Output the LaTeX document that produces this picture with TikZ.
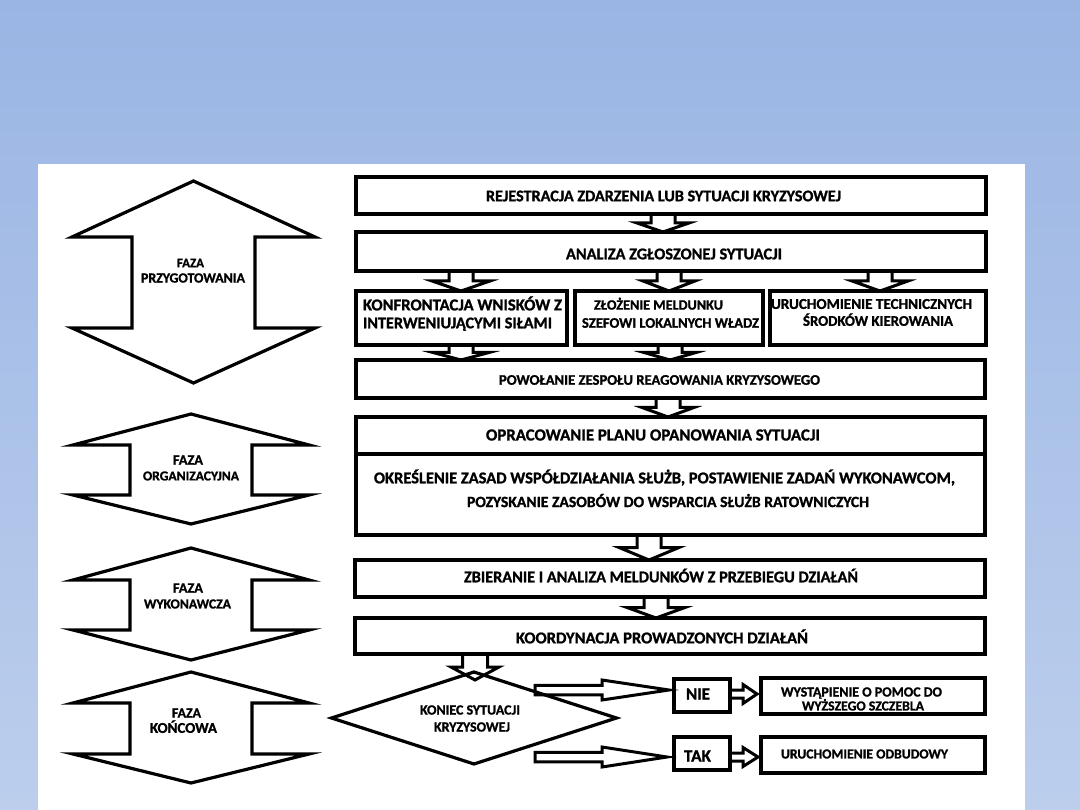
\documentclass[tikz,border=0pt]{standalone}
\usepackage{fontspec}
\setmainfont{Carlito}[BoldFeatures={FakeBold=1.2}]
\usepackage{graphicx}
\usetikzlibrary{calc,shapes.geometric}
\definecolor{bgtop}{RGB}{154,181,228}
\definecolor{bgbot}{RGB}{188,206,236}
\newcommand\fitline[2]{\resizebox{#1pt}{!}{\smash{#2}\vphantom{X}}}
% down block arrow: x, from node, tip coordinate, half shaft, half head
\newcommand\downblock[5]{%
  \draw[barrow] let \p1=(#2.south), \p2=(#3) in
    (#1pt-#4pt,\y1) -- (#1pt-#4pt,{0.5*\y1+0.5*\y2}) -- (#1pt-#5pt,{0.5*\y1+0.5*\y2})
    -- (#1pt,\y2) -- (#1pt+#5pt,{0.5*\y1+0.5*\y2}) -- (#1pt+#4pt,{0.5*\y1+0.5*\y2})
    -- (#1pt+#4pt,\y1);}
% right block arrow: tail coord, tip coord, half shaft, half head, head length
\newcommand\rightblock[5]{%
  \draw[barrow] let \p1=(#1), \p2=(#2) in
    (\x1,\y2-#3pt) -- (\x2-#5pt,\y2-#3pt) -- (\x2-#5pt,\y2-#4pt) -- (\x2,\y2)
    -- (\x2-#5pt,\y2+#4pt) -- (\x2-#5pt,\y2+#3pt) -- (\x1,\y2+#3pt) -- cycle;}
% phase double arrow: cx, outer half, inner half, ytop, yshoulder, ylow, ybottom
\newcommand\phaseshape[7]{%
  \draw[phaseline] (#1,#4) -- (#1-#2,#5) -- (#1-#3,#5) -- (#1-#3,#6) -- (#1-#2,#6)
    -- (#1,#7) -- (#1+#2,#6) -- (#1+#3,#6) -- (#1+#3,#5) -- (#1+#2,#5) -- cycle;}
\tikzset{
  box/.style={draw=black, fill=white, line width=4pt, rectangle, inner sep=0pt, outer sep=0pt},
  decision/.style={draw=black, fill=white, line width=3.2pt, diamond, inner sep=0pt, outer sep=0pt, minimum width=285pt, minimum height=92pt},
  barrow/.style={draw=black, line width=3pt, line join=miter},
  phaseline/.style={draw=black, line width=3.2pt, line join=miter},
  txt/.style={inner sep=0pt, outer sep=0pt, font=\bfseries, text=black}
}
\begin{document}
\begin{tikzpicture}[x=1pt,y=-1pt]
\useasboundingbox (0,0) rectangle (1080,810);
\fill[top color=bgtop, bottom color=bgbot] (0,0) rectangle (1080,810);
\fill[white] (38,164) rectangle (1025,810);

% phase shapes
\phaseshape{193.5}{121.5}{61.5}{181}{237}{328}{383}
\phaseshape{191}{118}{61}{414}{445}{495}{524}
\phaseshape{191}{118}{61}{548}{580}{630}{660}
\phaseshape{191}{118}{61}{672}{703}{754}{783}
\node[txt] (p1a) at (190.5,263) {\fitline{27}{FAZA}};
\node[txt] (p1b) at (193,278) {\fitline{104}{PRZYGOTOWANIA}};
\node[txt] (p2a) at (188,460) {\fitline{30}{FAZA}};
\node[txt] (p2b) at (191,476) {\fitline{96}{ORGANIZACYJNA}};
\node[txt] (p3a) at (188,588) {\fitline{30}{FAZA}};
\node[txt] (p3b) at (187.5,604) {\fitline{87}{WYKONAWCZA}};
\node[txt] (p4a) at (186.5,713) {\fitline{29}{FAZA}};
\node[txt] (p4b) at (183.5,728) {\fitline{67}{KOŃCOWA}};

% boxes
\node[box, minimum width=630pt, minimum height=37pt] (b1) at (671,195.5) {};
\node[box, minimum width=630pt, minimum height=39pt] (b2) at (671,251.5) {};
\node[box, minimum width=211pt, minimum height=54pt] (b3a) at (461.5,318) {};
\node[box, minimum width=188pt, minimum height=54pt] (b3b) at (669,318) {};
\node[box, minimum width=216pt, minimum height=54pt] (b3c) at (878,318) {};
\node[box, minimum width=629pt, minimum height=38pt] (b4) at (670.5,379) {};
\node[box, minimum width=629pt, minimum height=81pt] (b5b) at (670.5,494.5) {};
\node[box, minimum width=629pt, minimum height=37pt] (b5a) at (670.5,435.5) {};
\node[box, minimum width=630pt, minimum height=37pt] (b6) at (670,578.5) {};
\node[box, minimum width=630pt, minimum height=36pt] (b7) at (670,636) {};
\node[decision] (dia) at (474,718) {};
\node[box, minimum width=56pt, minimum height=33pt] (nie) at (702,695.5) {};
\node[box, minimum width=56pt, minimum height=33pt] (tak) at (702,753.5) {};
\node[box, minimum width=224pt, minimum height=36pt] (wyst) at (873,696) {};
\node[box, minimum width=224pt, minimum height=36pt] (odb) at (873,755) {};

% texts
\node[txt] (t1) at (663.5,196) {\fitline{355}{REJESTRACJA ZDARZENIA LUB SYTUACJI KRYZYSOWEJ}};
\node[txt] (t2) at (674,254) {\fitline{216}{ANALIZA ZGŁOSZONEJ SYTUACJI}};
\node[txt] (t3a1) at (462.5,305) {\fitline{199}{KONFRONTACJA WNISKÓW Z}};
\node[txt] (t3a2) at (457.5,323) {\fitline{189}{INTERWENIUJĄCYMI SIŁAMI}};
\node[txt] (t3b1) at (658.5,305) {\fitline{129}{ZŁOŻENIE MELDUNKU}};
\node[txt] (t3b2) at (670.5,323) {\fitline{177}{SZEFOWI LOKALNYCH WŁADZ}};
\node[txt] (t3c1) at (871.5,304) {\fitline{201}{URUCHOMIENIE TECHNICZNYCH}};
\node[txt] (t3c2) at (878,321) {\fitline{150}{ŚRODKÓW KIEROWANIA}};
\node[txt] (t4) at (659.5,380) {\fitline{321}{POWOŁANIE ZESPOŁU REAGOWANIA KRYZYSOWEGO}};
\node[txt] (t5a) at (653,435) {\fitline{334}{OPRACOWANIE PLANU OPANOWANIA SYTUACJI}};
\node[txt] (t5b1) at (664.5,478) {\fitline{581}{OKREŚLENIE ZASAD WSPÓŁDZIAŁANIA SŁUŻB, POSTAWIENIE ZADAŃ WYKONAWCOM,}};
\node[txt] (t5b2) at (668,502) {\fitline{402}{POZYSKANIE ZASOBÓW DO WSPARCIA SŁUŻB RATOWNICZYCH}};
\node[txt] (t6) at (661,577) {\fitline{394}{ZBIERANIE I ANALIZA MELDUNKÓW Z PRZEBIEGU DZIAŁAŃ}};
\node[txt] (t7) at (662,638) {\fitline{292}{KOORDYNACJA PROWADZONYCH DZIAŁAŃ}};
\node[txt] (td1) at (470,710) {\fitline{100}{KONIEC SYTUACJI}};
\node[txt] (td2) at (472,727) {\fitline{76}{KRYZYSOWEJ}};
\node[txt] (tnie) at (698,694) {\fitline{24}{NIE}};
\node[txt] (ttak) at (697.5,756) {\fitline{27}{TAK}};
\node[txt] (tw1) at (861.5,692) {\fitline{161}{WYSTĄPIENIE O POMOC DO}};
\node[txt] (tw2) at (863,706) {\fitline{122}{WYŻSZEGO SZCZEBLA}};
\node[txt] (to) at (864.5,754) {\fitline{167}{URUCHOMIENIE ODBUDOWY}};

% block arrows (down)
\downblock{663}{b1}{663,232}{12}{26}
\downblock{461}{b2}{461,291}{12}{29}
\downblock{669}{b2}{669,291}{12}{26}
\downblock{880}{b2}{880,291}{12}{28}
\downblock{461}{b3a}{461,360}{12}{28}
\downblock{670}{b3b}{670,360}{12}{26}
\downblock{668}{b4}{668,417}{12}{26}
\downblock{649}{b5b}{649,560}{12}{30}
\downblock{656}{b6}{656,618}{12}{29}
\downblock{475}{b7}{$(dia.north)+(1,8)$}{12.5}{24}

% block arrows (right)
\coordinate (nietail) at (535,690);
\coordinate (taktail) at (535,757);
\rightblock{nietail}{$(nie.west)+(-5,-5.5)$}{4.75}{10}{67}
\rightblock{taktail}{$(tak.west)+(-7,3.5)$}{4.75}{10}{65}
\rightblock{nie.east}{$(wyst.west)+(-4,-2)$}{4}{9.5}{14}
\rightblock{tak.east}{$(odb.west)+(-3,2)$}{4}{9.5}{15}
\end{tikzpicture}
\end{document}
